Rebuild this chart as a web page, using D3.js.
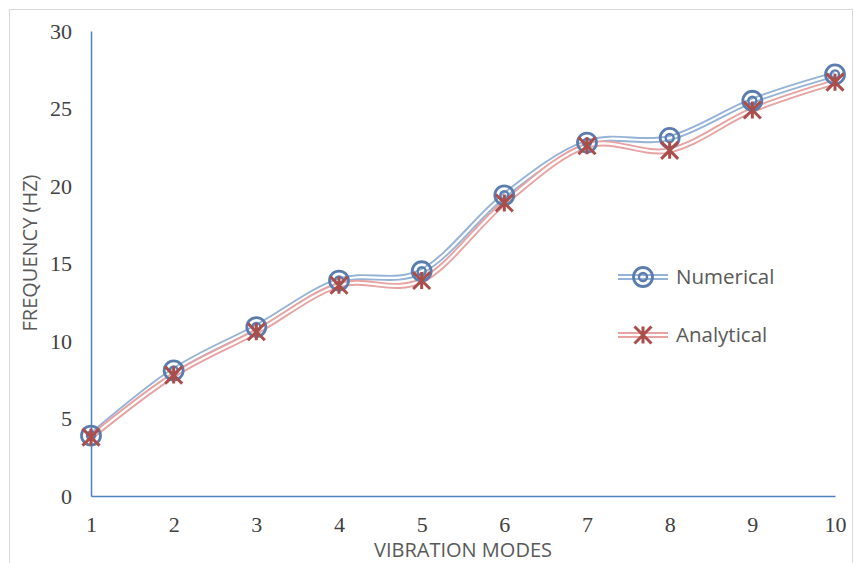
<!DOCTYPE html>
<html><head><meta charset="utf-8">
<script src="https://cdn.jsdelivr.net/npm/d3@7"></script>
<style>body{margin:0;background:#fff}</style>
</head><body>
<svg id="c" width="855" height="563"></svg>
<script>
const modes = [1,2,3,4,5,6,7,8,9,10];
const numerical = [3.9,8.1,10.9,13.9,14.5,19.4,22.8,23.1,25.5,27.2];
const analytical = [3.8,7.8,10.6,13.6,13.9,18.9,22.6,22.3,24.9,26.7];
const yTicks = [0,5,10,15,20,25,30];
const seriesNames = ["Numerical","Analytical"];

const svg = d3.select("#c");
svg.append("rect").attr("x",9.5).attr("y",9.5).attr("width",843).attr("height",560)
  .attr("fill","none").attr("stroke","#d9d9d9");

const x = d3.scaleLinear().domain([1,10]).range([91,835]);
const y = d3.scaleLinear().domain([0,30]).range([496,31]);

const yAxis = svg.append("g").attr("transform","translate(91,0)")
  .call(d3.axisLeft(y).tickValues(yTicks).tickSize(0).tickPadding(19));
yAxis.select(".domain").attr("stroke","#4F81BD").attr("stroke-width",1.5);
yAxis.selectAll("text").attr("font-family","Liberation Serif").attr("font-size",22).attr("fill","#404040");

const xAxis = svg.append("g").attr("transform","translate(0,496)")
  .call(d3.axisBottom(x).tickValues(modes).tickSize(0).tickPadding(20));
xAxis.select(".domain").attr("stroke","#4F81BD").attr("stroke-width",1.5);
xAxis.selectAll("text").attr("font-family","Liberation Serif").attr("font-size",22).attr("fill","#404040");

svg.append("text").attr("x",463).attr("y",557).attr("text-anchor","middle")
  .attr("font-family","Open Sans, Liberation Sans").attr("font-size",20).attr("fill","#595959")
  .text("VIBRATION MODES");
svg.append("text").attr("transform","translate(37,253) rotate(-90)").attr("text-anchor","middle")
  .attr("font-family","Open Sans, Liberation Sans").attr("font-size",20).attr("fill","#595959")
  .text("FREQUENCY (HZ)");

const line = d3.line().x((d,i)=>x(modes[i])).y(d=>y(d)).curve(d3.curveCatmullRom.alpha(0));

const cfg = [
  {data:numerical, line:"#95B3D7", mark:"#5B7DAE", type:"circle"},
  {data:analytical, line:"#E6A3A1", mark:"#A94E4B", type:"star"}
];

function drawMarker(g, type, color, cx, cy){
  if(type==="circle"){
    g.append("circle").attr("cx",cx).attr("cy",cy).attr("r",9.5).attr("fill","none").attr("stroke",color).attr("stroke-width",2.8);
    g.append("circle").attr("cx",cx).attr("cy",cy).attr("r",4).attr("fill","none").attr("stroke",color).attr("stroke-width",2.4);
  } else {
    const s=8.5;
    g.append("path").attr("d",`M${cx-s},${cy-s}L${cx+s},${cy+s}M${cx-s},${cy+s}L${cx+s},${cy-s}M${cx},${cy-s}L${cx},${cy+s}`)
      .attr("stroke",color).attr("stroke-width",3).attr("fill","none");
  }
}

cfg.forEach(c=>{
  svg.append("path").attr("d",line(c.data)).attr("fill","none").attr("stroke",c.line).attr("stroke-width",6);
  svg.append("path").attr("d",line(c.data)).attr("fill","none").attr("stroke","#fff").attr("stroke-width",2.2);
});
cfg.forEach(c=>{
  const g=svg.append("g");
  c.data.forEach((d,i)=>drawMarker(g,c.type,c.mark,x(modes[i]),y(d)));
});

const legY=[277,335];
cfg.forEach((c,i)=>{
  const g=svg.append("g");
  g.append("line").attr("x1",618).attr("x2",668).attr("y1",legY[i]).attr("y2",legY[i]).attr("stroke",c.line).attr("stroke-width",6);
  g.append("line").attr("x1",618).attr("x2",668).attr("y1",legY[i]).attr("y2",legY[i]).attr("stroke","#fff").attr("stroke-width",2.2);
  drawMarker(g,c.type,c.mark,643,legY[i]);
  g.append("text").attr("x",676).attr("y",legY[i]+7).attr("font-family","Open Sans, Liberation Sans")
    .attr("font-size",20.5).attr("fill","#595959").text(seriesNames[i]);
});
</script>
</body></html>
